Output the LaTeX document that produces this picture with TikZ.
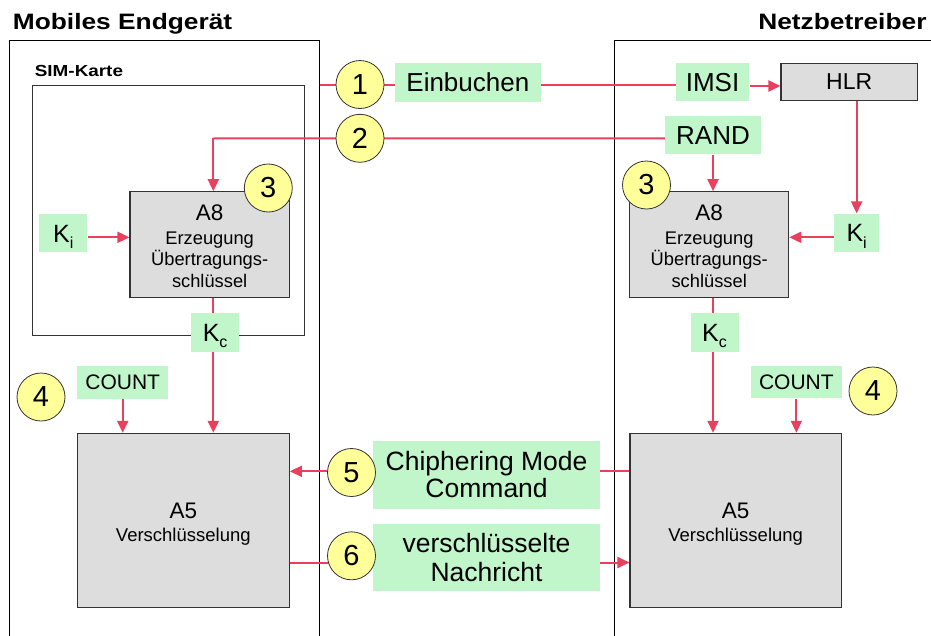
\documentclass[tikz,border=0pt]{standalone}
\usepackage{fontspec}
\setmainfont{Liberation Sans}
\newfontfamily\hdrfont{Liberation Sans}[FakeStretch=1.18]
\usetikzlibrary{arrows.meta}
\definecolor{myred}{RGB}{232,64,94}
\definecolor{mygreen}{RGB}{192,246,202}
\definecolor{myyellow}{RGB}{255,255,153}
\definecolor{mygray}{RGB}{221,221,221}
\definecolor{myborder}{RGB}{51,51,51}
\pgfdeclarelayer{bg}
\pgfsetlayers{bg,main}
\newcommand\fs[1]{\fontsize{#1}{#1}\selectfont}
\newcommand\Ksub[1]{K\raisebox{-6.5pt}{\fs{16}#1}}
\begin{document}
\begin{tikzpicture}[x=1pt,y=-1pt,
  redline/.style={draw=myred,line width=2pt},
  arr/.style={redline,-{Triangle[length=12pt,width=11pt]}},
  gbox/.style={fill=mygreen,inner sep=0pt},
  kbox/.style={gbox,minimum width=48pt,minimum height=38.4pt,font=\fs{25},text height=17.9pt,text depth=0pt},
  algo/.style={draw=myborder,fill=mygray,line width=1.1pt,inner sep=0pt},
  num/.style={circle,draw=myborder,fill=myyellow,minimum size=48pt,inner sep=0pt,line width=0.8pt,font=\fs{29}},
  txt/.style={anchor=base,inner sep=0pt}
]
\useasboundingbox (0,0) rectangle (931,635);

% headers
\node[anchor=base west,inner sep=0pt,font=\hdrfont\bfseries\fs{22.3}] (hl) at (12.7,29.3) {Mobiles Endgerät};
\node[anchor=base east,inner sep=0pt,font=\hdrfont\bfseries\fs{22.3}] (hr) at (926.7,29.3) {Netzbetreiber};
\node[anchor=base west,inner sep=0pt,font=\hdrfont\bfseries\fs{16}] (siml) at (34.7,76.7) {SIM-Karte};

% A8 boxes
\node[algo,minimum width=159.3pt,minimum height=105.6pt] (A8L) at (209.65,244.5) {};
\node[algo,minimum width=159pt,minimum height=105.6pt] (A8R) at (709.2,244.5) {};
\foreach \side/\cx in {L/209.65,R/709.2}{
  \node[txt,font=\fs{22.5}] (a8\side1) at (\cx,220) {A8};
  \node[txt,font=\fs{18.3}] (a8\side2) at (\cx,244.3) {Erzeugung};
  \node[txt,font=\fs{18.3}] (a8\side3) at (\cx,265.7) {Übertragungs-};
  \node[txt,font=\fs{18.3}] (a8\side4) at (\cx,287.3) {schlüssel};
}

% A5 boxes
\node[algo,minimum width=212pt,minimum height=174pt] (A5L) at (183.3,520.3) {};
\node[algo,minimum width=211.3pt,minimum height=174pt] (A5R) at (735.65,520.3) {};
\foreach \side/\cx in {L/183.3,R/735.65}{
  \node[txt,font=\fs{22.5}] (a5\side1) at (\cx,518.3) {A5};
  \node[txt,font=\fs{18.5}] (a5\side2) at (\cx,541.7) {Verschlüsselung};
}

% HLR
\node[algo,minimum width=136.3pt,minimum height=37.4pt,font=\fs{23}] (HLR) at (849.15,82) {HLR};

% green labels
\node[gbox,minimum width=145.7pt,minimum height=38.4pt,font=\fs{26}] (einb) at (467.85,82.5) {Einbuchen};
\node[gbox,minimum width=73.6pt,minimum height=38pt,font=\fs{26}] (IMSI) at (712.5,82.3) {IMSI};
\node[gbox,minimum width=95.4pt,minimum height=38.3pt,font=\fs{26}] (RAND) at (713,135.15) {RAND};
\node[kbox] (KiL) at (63.35,233.15) {\Ksub{i}};
\node[kbox,minimum width=45.3pt] (KiR) at (856.65,232.8) {\Ksub{i}};
\node[kbox] (KcL) at (215.15,332.5) {\Ksub{c}};
\node[kbox] (KcR) at (714.5,332.5) {\Ksub{c}};
\node[gbox,minimum width=91pt,minimum height=33pt,font=\fs{21}] (CNTL) at (122.7,382.5) {COUNT};
\node[gbox,minimum width=90.7pt,minimum height=32.3pt,font=\fs{21}] (CNTR) at (796.35,382.2) {COUNT};
\node[gbox,minimum width=227pt,minimum height=67.7pt,font=\fs{26.5},align=center] (chiph) at (486.6,474.85)
  {Chiphering Mode\\[0.8pt]Command};
\node[gbox,minimum width=227pt,minimum height=67.3pt,font=\fs{26.5},align=center] (versch) at (486.5,557.65)
  {verschlüsselte\\[2pt]Nachricht};

% numbered circles
\node[num] (n1) at (360,84.5) {1};
\node[num] (n2) at (360,138.3) {2};
\node[num] (n3L) at (268.3,188) {3};
\node[num] (n3R) at (646.5,185) {3};
\node[num] (n4L) at (41,397) {4};
\node[num] (n4R) at (873,391) {4};
\node[num] (n5) at (351.5,472.5) {5};
\node[num] (n6) at (351.5,555.8) {6};

\begin{pgfonlayer}{bg}
  % outer frames
  \draw[line width=1pt] (9.5,640) |- (319.5,40.5) -- (319.5,640);
  \draw[line width=1pt] (614.5,640) |- (940,40.5);
  % SIM card frame
  \node[draw=myborder,line width=1pt,minimum width=272.3pt,minimum height=249.3pt,inner sep=0pt] (sim) at (168.15,210.35) {};
  % step 1
  \coordinate (e1) at (319.5,85);
  \draw[redline] (e1) -- (e1 -| IMSI.west);
  \draw[arr] ([yshift=-3.7pt]IMSI.east) -- ([yshift=-3.7pt]IMSI.east -| HLR.west);
  \draw[arr] (KiR.north |- HLR.south) -- (KiR.north);
  \draw[arr] ([yshift=-4.5pt]KiR.west) -- ([yshift=-4.5pt]KiR.west -| A8R.east);
  % step 2
  \coordinate (vL) at (213.3,138.3);
  \draw[redline] ([yshift=-3.15pt]RAND.west) -- (vL);
  \draw[arr] (vL) -- (vL |- A8L.north);
  \draw[arr] (RAND.south) -- (RAND.south |- A8R.north);
  \draw[arr] ([yshift=-4.15pt]KiL.east) -- ([yshift=-4.15pt]KiL.east -| A8L.west);
  % Kc
  \draw[arr] (vL |- A8L.south) -- (vL |- A5L.north);
  \draw[arr] (RAND.south |- A8R.south) -- (RAND.south |- A5R.north);
  % COUNT
  \draw[arr] (CNTL.south) -- (CNTL.south |- A5L.north);
  \draw[arr] (CNTR.south) -- (CNTR.south |- A5R.north);
  % steps 5 and 6
  \draw[arr] ([yshift=49pt]A5R.west) -- ([yshift=49pt]A5R.west -| A5L.east);
  \draw[arr] ([yshift=-42.2pt]A5L.east) -- ([yshift=-42.2pt]A5L.east -| A5R.west);
\end{pgfonlayer}
\end{tikzpicture}
\end{document}
